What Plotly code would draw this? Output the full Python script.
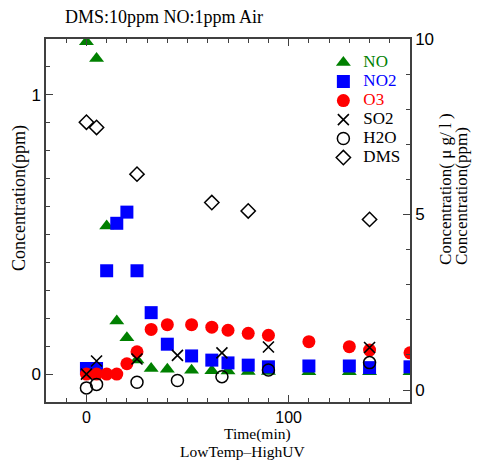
import plotly.graph_objects as go

# ---- data ----
no_t = [0, 5, 10, 15, 20, 25, 32, 40, 52, 62, 70, 80, 90, 110, 130, 140, 160]
no_v = [1.19, 1.13, 0.53, 0.19, 0.13, 0.05, 0.02, 0.017, 0.014, 0.012, 0.011, 0.009, 0.009, 0.008, 0.008, 0.008, 0.008]

no2_t = [0, 5, 10, 15, 20, 25, 32, 40, 52, 62, 70, 80, 90, 110, 130, 140, 160]
no2_v = [0.02, 0.02, 0.37, 0.54, 0.58, 0.37, 0.22, 0.107, 0.065, 0.05, 0.04, 0.032, 0.026, 0.029, 0.029, 0.023, 0.026]

o3_t = [0, 5, 10, 15, 20, 25, 32, 40, 52, 62, 70, 80, 90, 110, 130, 140, 160]
o3_v = [0.0, 0.0, 0.0, 0.0, 0.037, 0.08, 0.16, 0.177, 0.177, 0.168, 0.157, 0.146, 0.139, 0.116, 0.098, 0.086, 0.076]

so2_t = [0, 5, 25, 45, 67, 90, 140]
so2_v = [0.0, 0.047, 0.054, 0.067, 0.076, 0.097, 0.095]

h2o_t = [0, 5, 25, 45, 67, 90, 140]
h2o_v = [0.06, 0.16, 0.22, 0.27, 0.38, 0.57, 0.78]

dms_t = [0, 5, 25, 62, 80, 140]
dms_v = [7.63, 7.48, 6.15, 5.34, 5.10, 4.86]

x_ticks = [0, 100]
y_ticks = [0, 1]
y2_ticks = [0, 5, 10]

SERIF = "Liberation Serif, Times New Roman, serif"
SANS = "Liberation Sans, Arial, sans-serif"
GREEN, BLUE, RED, BLACK = "#008000", "#0000FF", "#FF0000", "#000000"


def lg(name, color):
    return f'<span style="font-size:17px;color:{color}">{name}</span>'


fig = go.Figure()
fig.add_trace(go.Scatter(x=no_t, y=no_v, mode="markers", name=lg("NO", GREEN),
                         marker=dict(symbol="triangle-up", size=13, color=GREEN)))
fig.add_trace(go.Scatter(x=no2_t, y=no2_v, mode="markers", name=lg("NO2", BLUE),
                         marker=dict(symbol="square", size=13, color=BLUE)))
fig.add_trace(go.Scatter(x=o3_t, y=o3_v, mode="markers", name=lg("O3", RED),
                         marker=dict(symbol="circle", size=13, color=RED)))
fig.add_trace(go.Scatter(x=so2_t, y=so2_v, mode="markers", name=lg("SO2", BLACK),
                         marker=dict(symbol="x-thin-open", size=11, color=BLACK,
                                     line=dict(color=BLACK, width=1.6))))
fig.add_trace(go.Scatter(x=h2o_t, y=h2o_v, mode="markers", name=lg("H2O", BLACK), yaxis="y2",
                         marker=dict(symbol="circle-open", size=12, color=BLACK,
                                     line=dict(color=BLACK, width=1.5))))
fig.add_trace(go.Scatter(x=dms_t, y=dms_v, mode="markers", name=lg("DMS", BLACK), yaxis="y2",
                         marker=dict(symbol="diamond-open", size=11, color=BLACK,
                                     line=dict(color=BLACK, width=1.5))))

axis_common = dict(showline=True, linecolor="#404040", linewidth=1.5, showgrid=False,
                   zeroline=False, ticks="inside", tickcolor="#404040", tickwidth=1.2,
                   ticklen=7, tickfont=dict(family=SANS, size=17, color="#000"))

fig.update_layout(
    width=480, height=462,
    margin=dict(l=46, r=70, t=39, b=60),
    paper_bgcolor="white", plot_bgcolor="white",
    showlegend=True,
    legend=dict(x=0.762, y=0.975, xanchor="left", yanchor="top",
                bgcolor="rgba(0,0,0,0)", borderwidth=0,
                font=dict(family=SERIF, size=11, color="#000"),
                itemwidth=30, tracegroupgap=0),
    xaxis=dict(range=[-20, 160], tickvals=x_ticks, mirror="ticks",
               minor=dict(dtick=10, tick0=0, ticks="inside", ticklen=4,
                          tickcolor="#404040", tickwidth=1),
               **{**axis_common, "tickfont": dict(family=SANS, size=16, color="#000")}),
    yaxis=dict(range=[-0.1, 1.2], tickvals=y_ticks,
               minor=dict(dtick=0.1, tick0=0, ticks="inside", ticklen=4,
                          tickcolor="#404040", tickwidth=1),
               **axis_common),
    yaxis2=dict(range=[-0.342, 10], tickvals=y2_ticks, overlaying="y", side="right",
                minor=dict(dtick=1, tick0=0, ticks="inside", ticklen=4,
                           tickcolor="#404040", tickwidth=1),
                **axis_common),
)

fig.add_annotation(text="DMS:10ppm NO:1ppm Air", xref="paper", yref="paper",
                   x=0.0467, y=1.0606, xanchor="left", yanchor="middle", showarrow=False,
                   font=dict(family=SERIF, size=18, color="#000"))
fig.add_annotation(text="Time(min)", xref="paper", yref="paper",
                   x=0.5797, y=-0.0882, xanchor="center", yanchor="middle", showarrow=False,
                   borderpad=0, font=dict(family=SERIF, size=15.5, color="#000"))
fig.add_annotation(text="LowTemp\u2013HighUV", xref="paper", yref="paper",
                   x=0.541, y=-0.1377, xanchor="center", yanchor="middle", showarrow=False,
                   borderpad=0, font=dict(family=SERIF, size=15.5, color="#000"))
fig.add_annotation(text="Concentration(ppm)", xref="paper", yref="paper",
                   x=-0.0714, y=0.562, xanchor="center", yanchor="middle", showarrow=False,
                   textangle=-90, font=dict(family=SERIF, size=18, color="#000"))
fig.add_annotation(text="Concentration( \u03bc g/ l )", xref="paper", yref="paper",
                   x=1.0989, y=0.372, xanchor="center", yanchor="bottom", showarrow=False,
                   textangle=-90, font=dict(family=SERIF, size=17, color="#000"))
fig.add_annotation(text="Concentration(ppm)", xref="paper", yref="paper",
                   x=1.1429, y=0.372, xanchor="center", yanchor="bottom", showarrow=False,
                   textangle=-90, font=dict(family=SERIF, size=17, color="#000"))

fig.write_html("out.html")
